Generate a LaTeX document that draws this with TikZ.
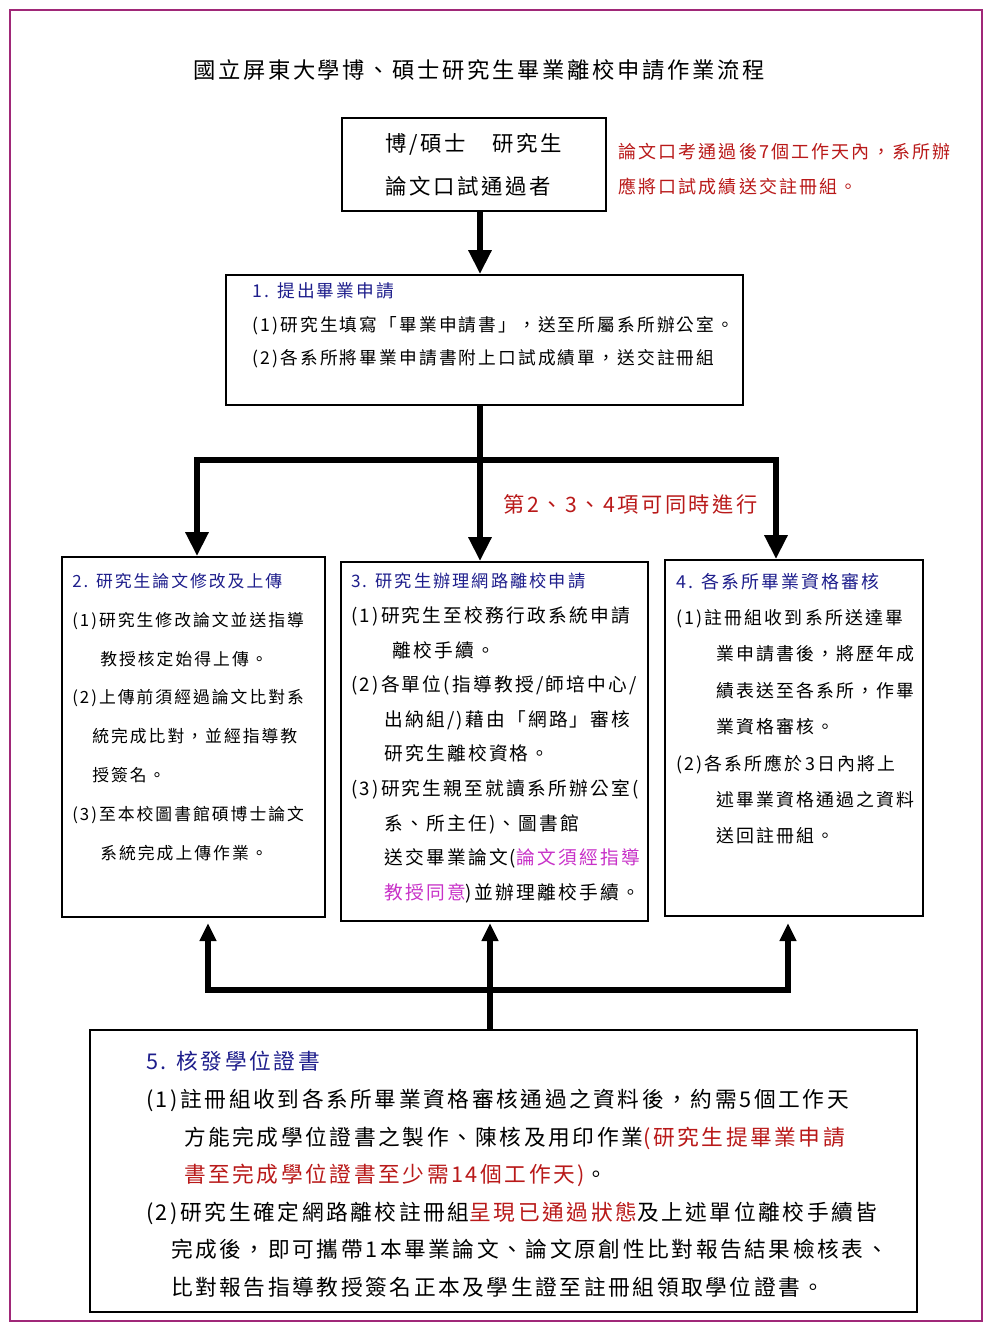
\documentclass[tikz,border=0pt]{standalone}
\usepackage{fontspec}
\setmainfont{Noto Sans CJK TC}[LetterSpace=12]
\usetikzlibrary{arrows.meta,positioning}
\definecolor{headblue}{RGB}{30,30,140}
\definecolor{notered}{RGB}{185,25,25}
\definecolor{pinktext}{RGB}{200,50,200}
\definecolor{framepink}{RGB}{160,40,120}

\begin{document}
\begin{tikzpicture}[x=1pt, y=-1pt, block/.style = {rectangle, draw, line width=1.8pt, inner sep=0pt}, blocktext/.style = {align=left, inner sep=0pt}, line/.style = {draw, line width=6pt}, bigarrow/.style = {line, -{Triangle[width=22pt,length=24pt]}}, smallarrow/.style = {line, -{Triangle[width=16pt,length=18pt]}}]
					\fill[white] (0,0) rectangle (1000,1334);
					\useasboundingbox (0,0) rectangle (1000,1334);
					\draw[framepink, line width=2.5pt] (10,10) rectangle (982,1321);

					\node[font=\fontsize{22.3}{24}\selectfont] (title) at (479,70) {國立屏東大學博、碩士研究生畢業離校申請作業流程};
					\node[block, minimum width=264pt, minimum height=93pt, align=left, font=\fontsize{21.4}{43}\selectfont] (oral) at (474,164.5) {博/碩士　研究生\\論文口試通過者};
					\node[blocktext, text=notered, font=\fontsize{18}{35}\selectfont, below right=25.7pt and 11pt of oral.north east] (deadline) {論文口考通過後7個工作天內，系所辦\\應將口試成績送交註冊組。};

					\node[block, minimum width=517pt, minimum height=130pt] (apply) at (484.5,340) {};
					\node[blocktext, font=\fontsize{17.7}{33.5}\selectfont, below right=8.8pt and 27pt of apply.north west] (applytext) {\textcolor{headblue}{1. 提出畢業申請}\\
						(1)研究生填寫「畢業申請書」，送至所屬系所辦公室。\\
						(2)各系所將畢業申請書附上口試成績單，送交註冊組};

					\node[block, minimum width=263pt, minimum height=360pt] (revise) at (193.5,737) {};
					\node[blocktext, font=\fontsize{16.8}{38.8}\selectfont, below right=17pt and 11pt of revise.north west] (revisetext) {\textcolor{headblue}{2. 研究生論文修改及上傳}\\
						(1)研究生修改論文並送指導\\
						\hspace*{28pt}教授核定始得上傳。\\
						(2)上傳前須經過論文比對系\\
						\hspace*{20pt}統完成比對，並經指導教\\
						\hspace*{20pt}授簽名。\\
						(3)至本校圖書館碩博士論文\\
						\hspace*{28pt}系統完成上傳作業。};

					\node[block, minimum width=307pt, minimum height=359pt] (online) at (494.5,741.5) {};
					\node[blocktext, font=\fontsize{18.7}{34.6}\selectfont, below right=12pt and 11pt of online.north west] (onlinetext) {\textcolor{headblue}{\fontsize{17.2}{34.6}\selectfont 3. 研究生辦理網路離校申請}\\
						(1)研究生至校務行政系統申請\\
						\hspace*{41pt}離校手續。\\
						(2)各單位(指導教授/師培中心/\\
						\hspace*{33pt}出納組/)藉由「網路」審核\\
						\hspace*{33pt}研究生離校資格。\\
						(3)研究生親至就讀系所辦公室(\\
						\hspace*{33pt}系、所主任)、圖書館\\
						\hspace*{33pt}送交畢業論文(\textcolor{pinktext}{論文須經指導}\\
						\hspace*{33pt}\textcolor{pinktext}{教授同意})並辦理離校手續。};

					\node[block, minimum width=258pt, minimum height=356pt] (review) at (794,738) {};
					\node[blocktext, font=\fontsize{17.9}{36.4}\selectfont, below right=13.7pt and 12pt of review.north west] (reviewtext) {\textcolor{headblue}{4. 各系所畢業資格審核}\\
						(1)註冊組收到系所送達畢\\
						\hspace*{40pt}業申請書後，將歷年成\\
						\hspace*{40pt}績表送至各系所，作畢\\
						\hspace*{40pt}業資格審核。\\
						(2)各系所應於3日內將上\\
						\hspace*{40pt}述畢業資格通過之資料\\
						\hspace*{40pt}送回註冊組。};

					\node[block, line width=2.4pt, minimum width=827pt, minimum height=282pt] (issue) at (503.5,1171) {};
					\node[blocktext, font=\fontsize{21.7}{37.6}\selectfont, below right=22.5pt and 57pt of issue.north west] (issuetext) {\textcolor{headblue}{5. 核發學位證書}\\
						(1)註冊組收到各系所畢業資格審核通過之資料後，約需5個工作天\\
						\hspace*{38pt}方能完成學位證書之製作、陳核及用印作業\textcolor{notered}{(研究生提畢業申請}\\
						\hspace*{38pt}\textcolor{notered}{書至完成學位證書至少需14個工作天)}。\\
						(2)研究生確定網路離校註冊組\textcolor{notered}{呈現已通過狀態}及上述單位離校手續皆\\
						\hspace*{25pt}完成後，即可攜帶1本畢業論文、論文原創性比對報告結果檢核表、\\
						\hspace*{25pt}比對報告指導教授簽名正本及學生證至註冊組領取學位證書。};

					% branch points of the thick connectors
					\coordinate (fork) at (480,460);
					\coordinate (forkL) at (197,460);
					\coordinate (forkR) at (776,460);
					\coordinate (join) at (490,990);
					\coordinate (joinL) at (208,990);
					\coordinate (joinR) at (788,990);
					\coordinate (tips) at (0,923);

					\node[text=notered, font=\fontsize{21.2}{24}\selectfont, below right=30.6pt and 20pt of fork] (parallel) {第2、3、4項可同時進行};

					\path[bigarrow] (oral.south -| fork) -- (apply.north -| fork);
					\path[line] (apply.south -| fork) -- (fork);
					\path[bigarrow] (fork) -| (forkL |- revise.north);
					\path[bigarrow] (fork) -- (fork |- online.north);
					\path[bigarrow] (fork) -| (forkR |- review.north);

					\path[line] (issue.north -| join) -- (join);
					\path[smallarrow] (join) -| (joinL |- tips);
					\path[smallarrow] (join) -- (join |- tips);
					\path[smallarrow] (join) -| (joinR |- tips);
				\end{tikzpicture}
\end{document}
